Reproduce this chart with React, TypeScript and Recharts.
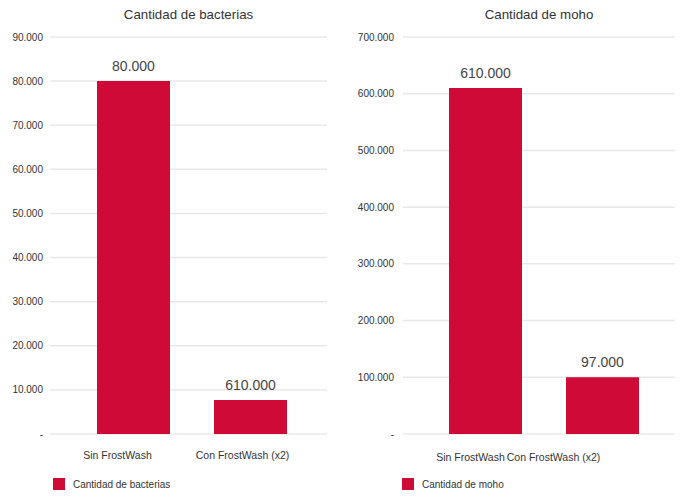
import React from 'react';
import { BarChart, Bar, XAxis, YAxis, CartesianGrid, LabelList, Legend } from 'recharts';

const categories = ['Sin FrostWash', 'Con FrostWash (x2)'];
const bacteriaValues = [80000, 7700];
const bacteriaLabels = ['80.000', '610.000'];
const mohoValues = [610000, 100000];
const mohoLabels = ['610.000', '97.000'];
const bacteriaTicks = [0, 10000, 20000, 30000, 40000, 50000, 60000, 70000, 80000, 90000];
const mohoTicks = [0, 100000, 200000, 300000, 400000, 500000, 600000, 700000];
const bacteriaTitle = 'Cantidad de bacterias';
const mohoTitle = 'Cantidad de moho';

const BAR_COLOR = '#d00a37';
const FONT = '"Liberation Sans", Arial, sans-serif';

const bacteriaData = categories.map((c, i) => ({ cat: c, value: bacteriaValues[i], label: bacteriaLabels[i] }));
const mohoData = categories.map((c, i) => ({ cat: c, value: mohoValues[i], label: mohoLabels[i] }));

const fmt = (v: number) => (v === 0 ? '-' : String(v).replace(/\B(?=(\d{3})+(?!\d))/g, '.'));

const makeTick = (offsets: number[]) => (props: any) => {
  const { x, y, payload, index } = props;
  return (
    <text x={x + (offsets[index] || 0)} y={y} dy="0.71em" textAnchor="middle" fontSize={10.5} fill="#333" fontFamily={FONT}>
      {payload.value}
    </text>
  );
};

const renderLegend = (props: any) => {
  const item = props.payload && props.payload[0];
  return (
    <div style={{ display: 'flex', alignItems: 'center', fontFamily: FONT, fontSize: 10, color: '#333', whiteSpace: 'nowrap' }}>
      <span style={{ display: 'inline-block', width: 12, height: 12, background: BAR_COLOR, marginRight: 8 }} />
      <span>{item ? item.value : ''}</span>
    </div>
  );
};

interface PanelProps {
  data: any[];
  title: string;
  ticks: number[];
  yWidth: number;
  tickMargin: number;
  marginRight: number;
  padLeft: number;
  padRight: number;
  xTickMargin: number;
  tickOffsets: number[];
  legendLeft: number;
}

const Panel = (p: PanelProps) => (
  <div style={{ position: 'relative', width: 341, height: 498 }}>
    <div style={{ position: 'absolute', top: 7, left: p.yWidth, width: 341 - p.yWidth - p.marginRight, textAlign: 'center', fontFamily: FONT, fontSize: 13.3, color: '#333' }}>
      {p.title}
    </div>
    <BarChart width={341} height={498} data={p.data} margin={{ top: 37, right: p.marginRight, bottom: 34, left: 0 }}>
      <CartesianGrid vertical={false} stroke="#e8e8e8" strokeWidth={1.5} />
      <XAxis
        dataKey="cat"
        axisLine={false}
        tickLine={false}
        tickMargin={p.xTickMargin}
        padding={{ left: p.padLeft, right: p.padRight }}
        tick={makeTick(p.tickOffsets)}
        interval={0}
      />
      <YAxis
        width={p.yWidth}
        domain={[p.ticks[0], p.ticks[p.ticks.length - 1]]}
        ticks={p.ticks}
        tickFormatter={fmt}
        axisLine={false}
        tickLine={false}
        tickMargin={p.tickMargin}
        tick={{ fontSize: 10, fill: '#333', fontFamily: FONT }}
        interval={0}
      />
      <Legend
        layout="horizontal"
        verticalAlign="middle"
        align="center"
        content={renderLegend}
        wrapperStyle={{ top: 478, left: p.legendLeft, width: 'auto', height: 'auto' }}
      />
      <Bar dataKey="value" name={p.title} fill={BAR_COLOR} barSize={73} isAnimationActive={false}>
        <LabelList dataKey="label" position="top" offset={10} fontSize={14} fill="#444" fontFamily={FONT} />
      </Bar>
    </BarChart>
  </div>
);

export default function App() {
  return (
    <div style={{ position: 'absolute', left: 0, top: 0, width: 682, height: 498, display: 'flex', background: '#fff' }}>
      <Panel
        data={bacteriaData}
        title={bacteriaTitle}
        ticks={bacteriaTicks}
        yWidth={50}
        tickMargin={1}
        marginRight={14}
        padLeft={25}
        padRight={18}
        xTickMargin={12}
        tickOffsets={[-16, -8]}
        legendLeft={53}
      />
      <Panel
        data={mohoData}
        title={mohoTitle}
        ticks={mohoTicks}
        yWidth={62}
        tickMargin={3}
        marginRight={7}
        padLeft={24}
        padRight={14}
        xTickMargin={14}
        tickOffsets={[-15, -49]}
        legendLeft={61}
      />
    </div>
  );
}
